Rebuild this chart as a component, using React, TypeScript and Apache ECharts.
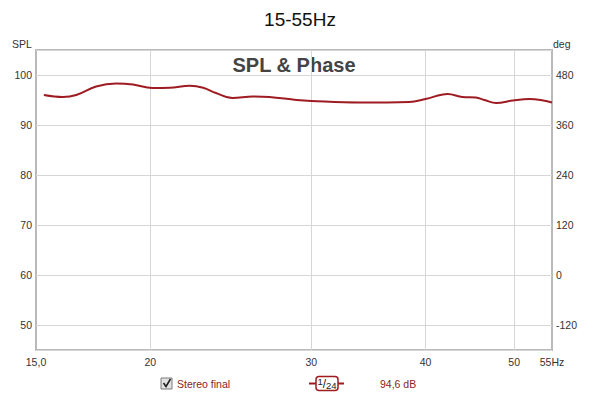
import React, { useEffect, useRef } from "react";
import * as echarts from "echarts";

const FONT = "'Liberation Sans', Arial, sans-serif";

// Frequency (Hz) and SPL (dB)
const freqs = [15.3, 16.05, 16.6, 17.45, 18.35, 19.15, 20.1, 21.0, 22.1, 22.85, 23.6, 24.6, 25.9, 27.0, 28.9, 30, 33.9, 38.4, 40, 42.3, 43.9, 45.4, 46.4, 47.8, 49.85, 52.0, 53.8, 55];
const spl = [96.0, 95.6, 96.0, 97.7, 98.3, 98.1, 97.4, 97.45, 97.85, 97.45, 96.4, 95.4, 95.7, 95.6, 95.0, 94.8, 94.5, 94.6, 95.2, 96.2, 95.6, 95.5, 95.0, 94.4, 94.9, 95.2, 94.9, 94.5];

const xLabelValues = [15, 20, 30, 40, 50, 55];
const xGridValues = [20, 30, 40, 50];
const splRange = [45, 105];
const degRange = [-180, 540];

const seriesName = "Stereo final";
const smoothingLabel = ["1", "24"];
const readout = "94,6 dB";

export default function App() {
  const ref = useRef<HTMLDivElement>(null);
  useEffect(() => {
    if (!ref.current) return;
    const chart = echarts.init(ref.current, null, { renderer: "svg" });
    const data = freqs.map((f, i) => [f, spl[i]]);
    const red = "#9e1b22";
    chart.setOption({
      animation: false,
      backgroundColor: "#ffffff",
      title: {
        text: "15-55Hz",
        left: "center",
        top: 10,
        padding: 0,
        textStyle: { fontSize: 19, fontWeight: "normal", color: "#111", fontFamily: FONT },
      },
      grid: {
        left: 36,
        right: 48,
        top: 50,
        bottom: 45,
        show: true,
        borderColor: "#b9b9b9",
        borderWidth: 2,
        backgroundColor: "#ffffff",
      },
      xAxis: {
        type: "log",
        logBase: 10,
        min: 15,
        max: 55,
        axisLine: { show: false },
        axisTick: { show: false, customValues: xGridValues },
        axisLabel: {
          customValues: xLabelValues,
          margin: 6,
          fontSize: 10.5,
          color: "#333",
          fontFamily: FONT,
          formatter: (v: number) => (v === 15 ? "15,0" : v === 55 ? "55Hz" : String(v)),
        },
        splitLine: { show: true, lineStyle: { color: "#d6d6d6", width: 1 } },
      },
      yAxis: [
        {
          type: "value",
          position: "left",
          min: splRange[0],
          max: splRange[1],
          splitNumber: 6,
          axisLine: { show: false },
          axisTick: { show: false },
          axisLabel: {
            showMinLabel: false,
            showMaxLabel: false,
            margin: 4,
            fontSize: 10.5,
            color: "#333",
            fontFamily: FONT,
          },
          splitLine: { show: true, lineStyle: { color: "#d6d6d6", width: 1 } },
        },
        {
          type: "value",
          position: "right",
          min: degRange[0],
          max: degRange[1],
          interval: 60,
          axisLine: { show: false },
          axisTick: { show: false },
          axisLabel: {
            margin: 4,
            fontSize: 10.5,
            color: "#333",
            fontFamily: FONT,
            formatter: (v: number) => (v % 120 === 0 ? String(v) : ""),
          },
          splitLine: { show: false },
        },
      ],
      series: [
        {
          name: seriesName,
          type: "line",
          data,
          yAxisIndex: 0,
          smooth: 0.4,
          showSymbol: false,
          symbol: "none",
          lineStyle: { color: red, width: 2 },
        },
      ],
      graphic: [
        { type: "text", left: 12, top: 38, style: { text: "SPL", fill: "#333", font: `10.5px ${FONT}` } },
        { type: "text", left: 553, top: 38, style: { text: "deg", fill: "#333", font: `10.5px ${FONT}` } },
        {
          type: "text",
          x: 294,
          y: 65,
          style: {
            text: "SPL & Phase",
            align: "center",
            verticalAlign: "middle",
            font: `bold 20px ${FONT}`,
            fill: "#444",
          },
        },
        // legend: checkbox
        {
          type: "rect",
          shape: { x: 161, y: 378, width: 11, height: 11 },
          style: { fill: "#e2e2e2", stroke: "#7a7a7a", lineWidth: 1 },
        },
        {
          type: "polyline",
          shape: { points: [[163.5, 383], [166, 386.5], [170.5, 379]] },
          style: { stroke: "#222", lineWidth: 1.6, fill: "none" },
        },
        {
          type: "text",
          x: 177,
          y: 383.5,
          style: { text: seriesName, verticalAlign: "middle", font: `10.5px ${FONT}`, fill: "#8b2323" },
        },
        // smoothing indicator
        {
          type: "line",
          shape: { x1: 309, y1: 383.5, x2: 344, y2: 383.5 },
          style: { stroke: red, lineWidth: 2 },
        },
        {
          type: "rect",
          shape: { x: 316, y: 376.5, width: 22, height: 14, r: 3 },
          style: { fill: "#fff", stroke: red, lineWidth: 1.5 },
        },
        {
          type: "text",
          x: 327,
          y: 383.5,
          style: {
            text: `{a|${smoothingLabel[0]}}{b|/}{c|${smoothingLabel[1]}}`,
            align: "center",
            verticalAlign: "middle",
            rich: {
              a: { fontSize: 9.5, fontFamily: FONT, fill: "#222", lineHeight: 14, verticalAlign: "top" },
              b: { fontSize: 12, fontFamily: FONT, fill: "#222", lineHeight: 14, verticalAlign: "middle" },
              c: { fontSize: 9.5, fontFamily: FONT, fill: "#222", lineHeight: 14, verticalAlign: "bottom" },
            },
          },
        },
        {
          type: "text",
          x: 380,
          y: 383.5,
          style: { text: readout, verticalAlign: "middle", font: `10.5px ${FONT}`, fill: "#8b2323" },
        },
      ],
    });
    return () => chart.dispose();
  }, []);
  return <div ref={ref} style={{ position: "absolute", left: 0, top: 0, width: 600, height: 395 }} />;
}
